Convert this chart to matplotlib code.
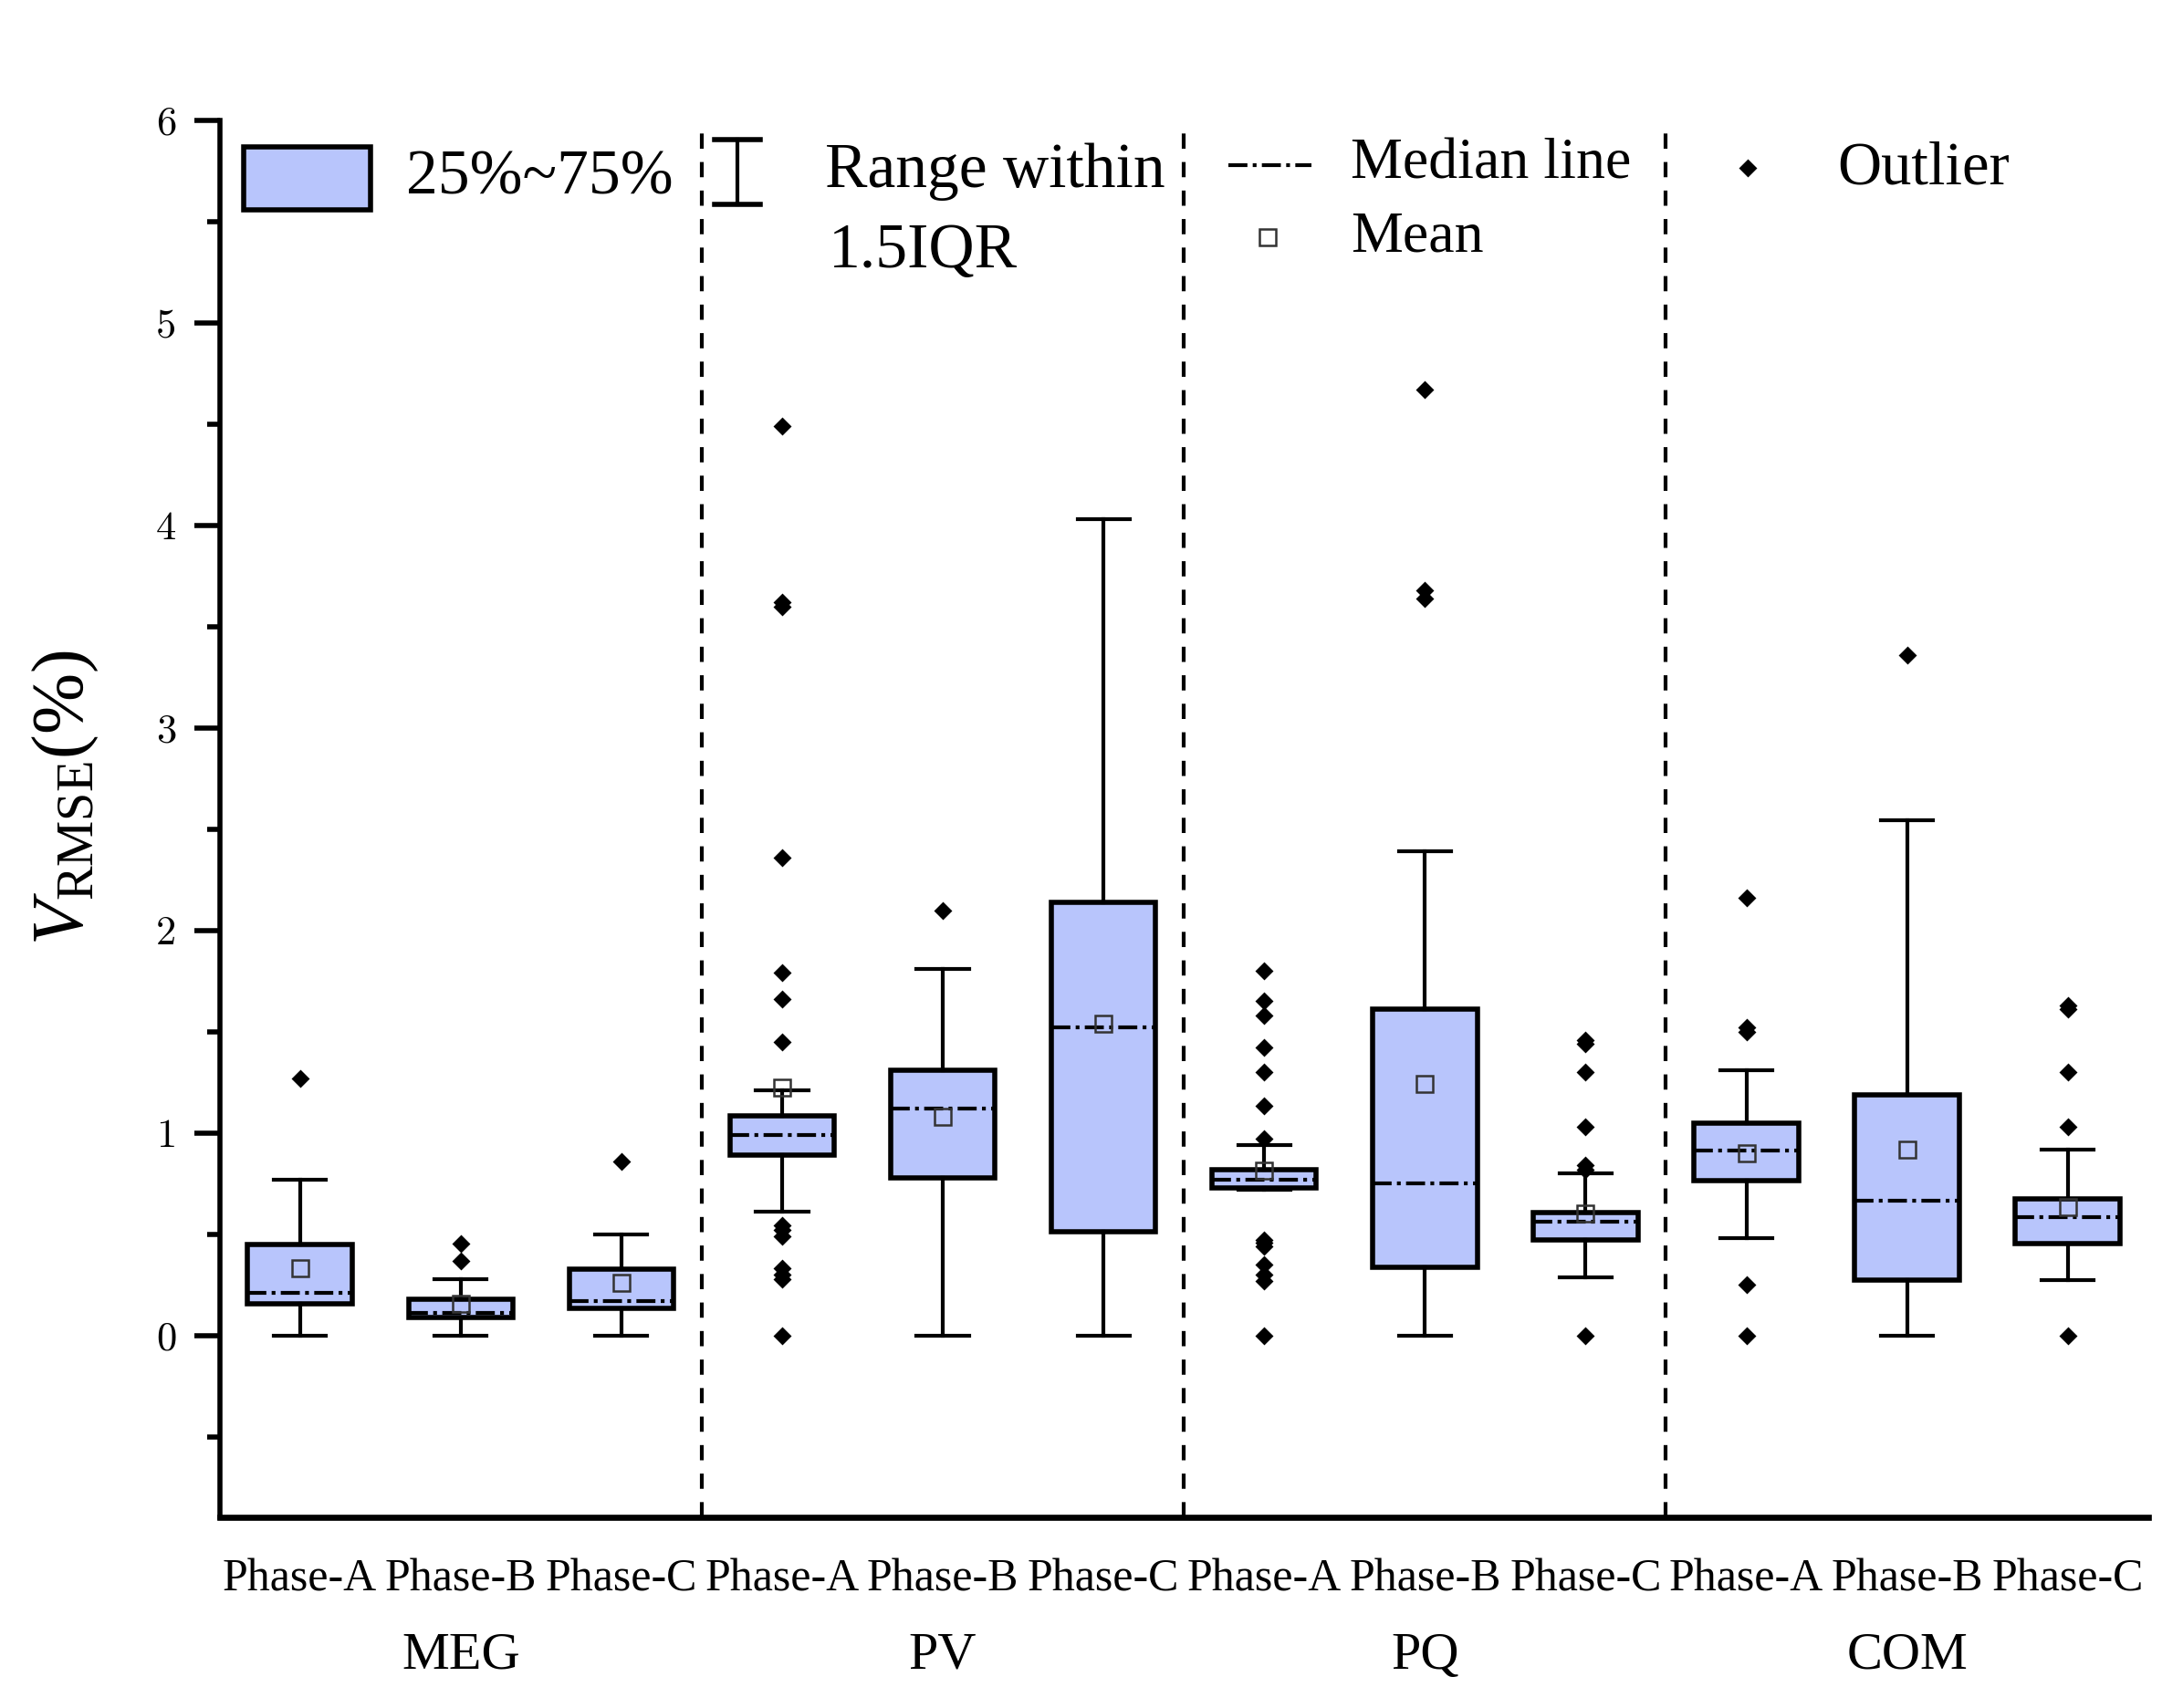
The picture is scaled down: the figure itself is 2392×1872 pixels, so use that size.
import matplotlib
matplotlib.use("Agg")
import matplotlib.pyplot as plt
from matplotlib.patches import Rectangle
from matplotlib.lines import Line2D
from matplotlib.ticker import MultipleLocator

plt.rcParams['font.family'] = ['Liberation Serif', 'DejaVu Serif']
plt.rcParams['mathtext.fontset'] = 'custom'
plt.rcParams['mathtext.rm'] = 'Liberation Serif'
plt.rcParams['mathtext.it'] = 'Liberation Serif:italic'

# data
groups = ["MEG", "PV", "PQ", "COM"]
phases = ["Phase-A", "Phase-B", "Phase-C"]

whislo = [0, 0, 0, 0.61, 0, 0, 0.72, 0, 0.286, 0.48, 0, 0.275]
q1 = [0.155, 0.09, 0.135, 0.89, 0.78, 0.51, 0.73, 0.336, 0.47, 0.765, 0.275, 0.455]
med = [0.21, 0.11, 0.17, 0.99, 1.12, 1.52, 0.77, 0.75, 0.56, 0.915, 0.665, 0.586]
q3 = [0.45, 0.18, 0.327, 1.085, 1.31, 2.14, 0.82, 1.61, 0.605, 1.05, 1.19, 0.675]
whishi = [0.77, 0.277, 0.50, 1.21, 1.81, 4.03, 0.94, 2.39, 0.80, 1.31, 2.545, 0.916]
means = [0.33, 0.155, 0.26, 1.225, 1.08, 1.54, 0.815, 1.24, 0.60, 0.90, 0.916, 0.634]
fliers = [
    [1.27],
    [0.37, 0.455],
    [0.86],
    [0, 0.28, 0.30, 0.33, 0.49, 0.52, 0.545, 1.45, 1.66, 1.79, 2.36, 3.60, 3.62, 4.49],
    [2.10],
    [],
    [0, 0.27, 0.30, 0.35, 0.44, 0.46, 0.47, 0.97, 1.135, 1.30, 1.42, 1.58, 1.65, 1.80],
    [3.64, 3.68, 4.67],
    [0, 0.82, 0.84, 1.03, 1.30, 1.44, 1.46],
    [0, 0.25, 1.50, 1.52, 2.16],
    [3.36],
    [0, 1.03, 1.30, 1.61, 1.63],
]

box_color = '#B8C5FC'
med_style = (0, (5, 1.4, 1, 1.4))

stats = []
for i in range(len(med)):
    stats.append(dict(whislo=whislo[i], q1=q1[i], med=med[i], q3=q3[i],
                      whishi=whishi[i], mean=means[i], fliers=fliers[i]))

fig = plt.figure(figsize=(11.96, 9.36), dpi=200)
ax = fig.add_axes([0.1006, 0.1114, 0.8834, 0.8182])

positions = list(range(1, len(med) + 1))
ax.bxp(stats, positions=positions, widths=0.65, patch_artist=True,
       showmeans=True, showfliers=True,
       boxprops=dict(facecolor=box_color, edgecolor='black', linewidth=2.0),
       whiskerprops=dict(color='black', linewidth=1.5),
       capprops=dict(color='black', linewidth=1.5),
       medianprops=dict(color='black', linewidth=1.5, linestyle=med_style),
       meanprops=dict(marker='s', markersize=6.5, markerfacecolor='none',
                      markeredgecolor='#333333', markeredgewidth=0.9),
       flierprops=dict(marker='D', markersize=4.3, markerfacecolor='black',
                       markeredgecolor='black'))

# group dividers
for k in range(1, len(groups)):
    ax.axvline(k * 3 + 0.5, color='black', linestyle=(0, (4, 3.5)), linewidth=1.5)

ax.set_xlim(0.5, 12.5)
ax.set_ylim(-0.9, 6)

for s in ['top', 'right']:
    ax.spines[s].set_visible(False)
ax.spines['left'].set_linewidth(2.0)
ax.spines['bottom'].set_linewidth(2.4)

ax.yaxis.set_major_locator(MultipleLocator(1))
ax.yaxis.set_minor_locator(MultipleLocator(0.5))
ax.set_yticks([0, 1, 2, 3, 4, 5, 6])
ax.set_yticklabels(['0', '1', '2', '3', '4', '5', '6'], fontfamily='cmr10', fontsize=16)
ax.tick_params(axis='y', which='major', length=10, width=2.0, pad=7)
ax.tick_params(axis='y', which='minor', length=5, width=2.0)

ax.set_xticks(positions)
ax.set_xticklabels(phases * len(groups), fontsize=18)
ax.tick_params(axis='x', length=0, pad=16)

for k, g in enumerate(groups):
    ax.text(k * 3 + 2, -0.108, g, transform=ax.get_xaxis_transform(),
            ha='center', va='baseline', fontsize=21)

ax.set_ylabel(r'$\mathit{V}_{\mathrm{RMSE}}(\%)$', fontsize=29)
ax.yaxis.set_label_coords(-0.062, 0.515)

# hand-built legend across the top
T = ax.transAxes
ax.add_patch(Rectangle((0.0123, 0.936), 0.066, 0.045, transform=T,
                       facecolor=box_color, edgecolor='black', linewidth=2.0))
ax.text(0.0965, 0.958, '25%~75%', transform=T, ha='left', va='center', fontsize=25)

ax.add_line(Line2D([0.2685, 0.2685], [0.94, 0.986], transform=T, color='black', lw=1.5))
for yy in [0.94, 0.986]:
    ax.add_line(Line2D([0.2569, 0.2801], [yy, yy], transform=T, color='black', lw=2.0))
ax.text(0.314, 0.963, 'Range within', transform=T, ha='left', va='center', fontsize=25)
ax.text(0.3157, 0.906, '1.5IQR', transform=T, ha='left', va='center', fontsize=25)

ax.add_line(Line2D([0.523, 0.566], [0.968, 0.968], transform=T, color='black',
                   lw=1.5, linestyle=med_style))
ax.text(0.5864, 0.968, 'Median line', transform=T, ha='left', va='center', fontsize=23)
ax.add_line(Line2D([0.5435], [0.916], transform=T, marker='s', markersize=6.5,
                   markerfacecolor='none', markeredgecolor='#333333', markeredgewidth=0.9))
ax.text(0.5864, 0.916, 'Mean', transform=T, ha='left', va='center', fontsize=23)

ax.add_line(Line2D([0.7925], [0.966], transform=T, marker='D', markersize=4.3,
                   markerfacecolor='black', markeredgecolor='black', linestyle='none'))
ax.text(0.839, 0.965, 'Outlier', transform=T, ha='left', va='center', fontsize=24)

fig.savefig('out.png', dpi=200)
